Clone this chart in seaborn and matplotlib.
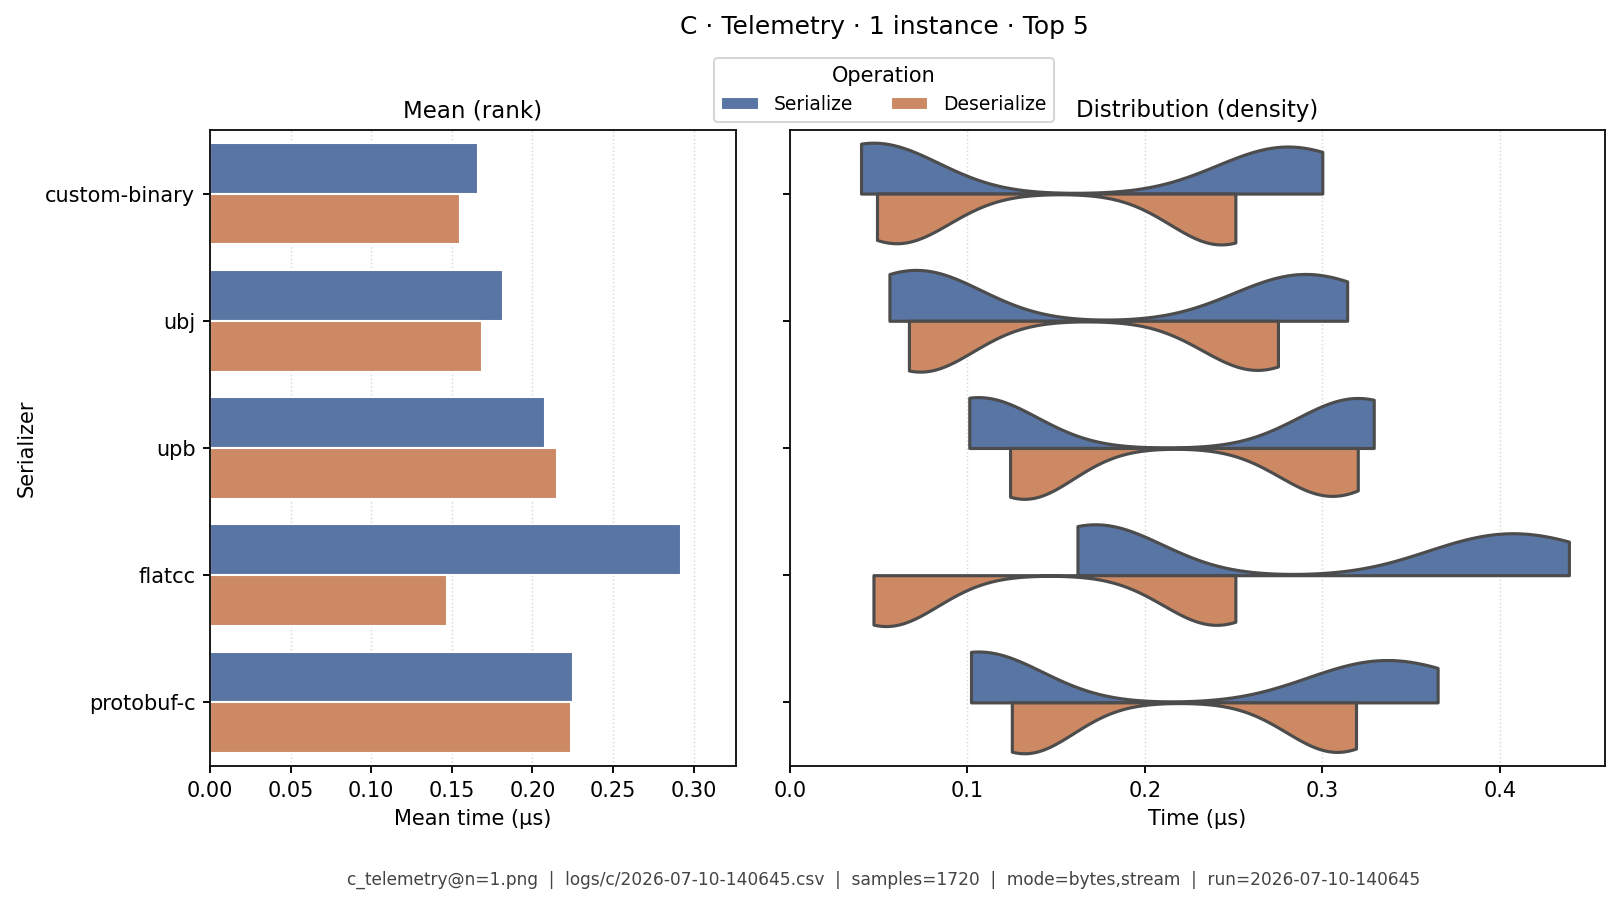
import matplotlib
matplotlib.use("Agg")
from matplotlib import pyplot as plt
import pandas as pd
import seaborn as sns

# serializers in rank order (top to bottom)
serializers = ["custom-binary", "ubj", "upb", "flatcc", "protobuf-c"]
operations = ["Serialize", "Deserialize"]

# mean time per serializer (us)
mean_serialize = [0.166, 0.182, 0.208, 0.292, 0.225]
mean_deserialize = [0.155, 0.169, 0.215, 0.147, 0.224]

# timing samples (us) behind the density panel
custom_binary_ser = [0.040, 0.047, 0.054, 0.262, 0.280, 0.300]
custom_binary_deser = [0.049, 0.060, 0.071, 0.235, 0.243, 0.251]
ubj_ser = [0.056, 0.071, 0.086, 0.268, 0.290, 0.314]
ubj_deser = [0.067, 0.073, 0.080, 0.252, 0.263, 0.275]
upb_ser = [0.101, 0.106, 0.111, 0.311, 0.320, 0.329]
upb_deser = [0.124, 0.132, 0.140, 0.292, 0.305, 0.320]
flatcc_ser = [0.162, 0.172, 0.182, 0.378, 0.407, 0.439]
flatcc_deser = [0.047, 0.054, 0.061, 0.230, 0.240, 0.251]
protobuf_c_ser = [0.102, 0.106, 0.110, 0.310, 0.336, 0.365]
protobuf_c_deser = [0.125, 0.132, 0.139, 0.298, 0.308, 0.319]

footer = ("c_telemetry@n=1.png  |  logs/c/2026-07-10-140645.csv  |  samples=1720  |  "
          "mode=bytes,stream  |  run=2026-07-10-140645")

sns.set_theme(style="ticks", context="notebook", rc={
    "axes.linewidth": 0.9,
    "axes.edgecolor": "#111111",
    "xtick.major.size": 3.5,
    "ytick.major.size": 3.5,
    "xtick.major.width": 0.9,
    "ytick.major.width": 0.9,
    "xtick.color": "black",
    "ytick.color": "black",
    "text.color": "black",
    "axes.labelcolor": "black",
})
plt.rcParams["font.family"] = ["DejaVu Sans"]

means = pd.DataFrame({
    "Serializer": serializers * 2,
    "Operation": ["Serialize"] * 5 + ["Deserialize"] * 5,
    "Mean": mean_serialize + mean_deserialize,
})

sample_lists = {
    ("custom-binary", "Serialize"): custom_binary_ser,
    ("custom-binary", "Deserialize"): custom_binary_deser,
    ("ubj", "Serialize"): ubj_ser,
    ("ubj", "Deserialize"): ubj_deser,
    ("upb", "Serialize"): upb_ser,
    ("upb", "Deserialize"): upb_deser,
    ("flatcc", "Serialize"): flatcc_ser,
    ("flatcc", "Deserialize"): flatcc_deser,
    ("protobuf-c", "Serialize"): protobuf_c_ser,
    ("protobuf-c", "Deserialize"): protobuf_c_deser,
}
rows = []
for (name, op), vals in sample_lists.items():
    for v in vals:
        rows.append({"Serializer": name, "Operation": op, "Time": v})
samples = pd.DataFrame(rows)

fig = plt.figure(figsize=(1619 / 150, 905 / 150), dpi=150)
ax1 = fig.add_axes([0.1297, 0.1536, 0.3249, 0.7028])
ax2 = fig.add_axes([0.4880, 0.1536, 0.5034, 0.7028])

palette = sns.color_palette("deep", 2)

sns.barplot(data=means, y="Serializer", x="Mean", hue="Operation",
            order=serializers, hue_order=operations, palette=palette,
            errorbar=None, ax=ax1)
handles, labels = ax1.get_legend_handles_labels()
ax1.get_legend().remove()

sns.violinplot(data=samples, y="Serializer", x="Time", hue="Operation",
               order=serializers, hue_order=operations, palette=palette,
               split=True, inner=None, cut=0, density_norm="width",
               bw_adjust=0.4, linewidth=1.5, legend=False, ax=ax2)

for ax in (ax1, ax2):
    ax.grid(axis="x", linestyle=":", color="#d9d9d9", linewidth=0.7)
    ax.set_axisbelow(True)
    ax.tick_params(labelsize=10)
    for s in ax.spines.values():
        s.set_visible(True)

ax1.set_xlim(0, 0.3263)
ax1.set_title("Mean (rank)", fontsize=11)
ax1.set_xlabel("Mean time (µs)", fontsize=10)
ax1.set_ylabel("Serializer", fontsize=10)

ax2.set_xlim(0, 0.4594)
ax2.set_title("Distribution (density)", fontsize=11)
ax2.set_xlabel("Time (µs)", fontsize=10)
ax2.set_ylabel("")
ax2.set_yticklabels([])

fig.text(0.546, 0.970, "C · Telemetry · 1 instance · Top 5", ha="center", va="center", fontsize=12)
fig.legend(handles, labels, title="Operation", loc="upper center",
           bbox_to_anchor=(0.546, 0.946), ncol=2, fontsize=9, title_fontsize=10,
           frameon=True)
fig.text(0.546, 0.0276, footer, ha="center", va="center", fontsize=8.15, color="#444444")

fig.savefig("out.png", dpi=150)
